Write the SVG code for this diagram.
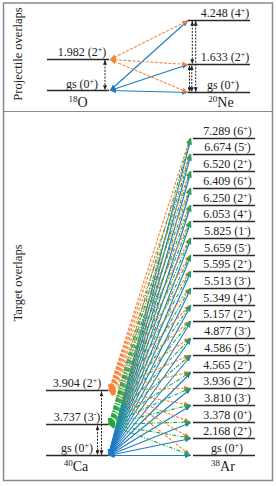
<svg xmlns="http://www.w3.org/2000/svg" width="276" height="486" viewBox="0 0 276 486">
<style>
text{font-family:"Liberation Serif","Times New Roman",serif;fill:#222}
.lbl{font-size:12px;text-anchor:middle}
.nuc{font-size:14px;text-anchor:middle}
.ttl{font-size:12.5px;text-anchor:middle}
.lev{stroke:#2a2a2a;stroke-width:1.3}
.b{stroke:#1f7bc4;stroke-width:1.1;fill:none;marker-start:url(#mb);marker-end:url(#mb)}
.o{stroke:#f5843a;stroke-width:1.1;fill:none;stroke-dasharray:3 1.5;marker-start:url(#mo);marker-end:url(#mo)}
.g{stroke:#26a844;stroke-width:1.1;fill:none;stroke-dasharray:4 1.5 1 1.5;marker-start:url(#mg);marker-end:url(#mg)}
.k{stroke:#222;stroke-width:1;fill:none;stroke-dasharray:2 1.3;marker-start:url(#mk);marker-end:url(#mk)}
</style>
<defs>
<marker id="mb" viewBox="0 0 6 5" refX="6" refY="2.5" markerWidth="6" markerHeight="5" markerUnits="userSpaceOnUse" orient="auto-start-reverse"><path d="M0,0 L6,2.5 L0,5 z" fill="#1f7bc4"/></marker>
<marker id="mo" viewBox="0 0 6 5" refX="6" refY="2.5" markerWidth="6" markerHeight="5" markerUnits="userSpaceOnUse" orient="auto-start-reverse"><path d="M0,0 L6,2.5 L0,5 z" fill="#f5843a"/></marker>
<marker id="mg" viewBox="0 0 6 5" refX="6" refY="2.5" markerWidth="6" markerHeight="5" markerUnits="userSpaceOnUse" orient="auto-start-reverse"><path d="M0,0 L6,2.5 L0,5 z" fill="#26a844"/></marker>
<marker id="mk" viewBox="0 0 6 5" refX="6" refY="2.5" markerWidth="5" markerHeight="4" markerUnits="userSpaceOnUse" orient="auto-start-reverse"><path d="M0,0 L6,2.5 L0,5 z" fill="#222"/></marker>
</defs>
<rect x="0" y="0" width="276" height="486" fill="#fff"/>
<g id="frame">
<rect x="3.5" y="3" width="269" height="477.5" fill="none" stroke="#8a8a8a" stroke-width="1.5"/>
<line x1="3.5" y1="111.5" x2="272.5" y2="111.5" stroke="#8a8a8a" stroke-width="1.2"/>
</g>
<g id="titles">
<text class="ttl" transform="translate(22,54) rotate(-90)">Projectile overlaps</text>
<text class="ttl" transform="translate(22,283) rotate(-90)">Target overlaps</text>
</g>

<g id="connectors">
<g id="proj-conn">
<line class="b" x1="110" y1="90.5" x2="188" y2="20.5"/>
<line class="b" x1="110" y1="90.5" x2="188" y2="64.5"/>
<line class="b" x1="110" y1="90.5" x2="188" y2="92.5"/>
<line class="o" x1="110" y1="59.5" x2="188" y2="20.5"/>
<line class="o" x1="110" y1="59.5" x2="188" y2="64.5"/>
<line class="o" x1="110" y1="59.5" x2="188" y2="92.5"/>
<line class="k" x1="105" y1="60" x2="105" y2="90"/>
<line class="k" x1="192.3" y1="21" x2="192.3" y2="64"/>
<line class="k" x1="195.7" y1="21" x2="195.7" y2="92"/>
<line class="k" x1="189.5" y1="65.5" x2="189.5" y2="92"/>
<line class="k" x1="191.8" y1="65.5" x2="191.8" y2="92"/>
</g>
<g id="targ-blue">
<line class="b" x1="108.5" y1="455.5" x2="191" y2="455.5"/>
<line class="b" x1="108.5" y1="455.5" x2="191" y2="438.5"/>
<line class="b" x1="108.5" y1="455.5" x2="191" y2="422.5"/>
<line class="b" x1="108.5" y1="455.5" x2="191" y2="405.5"/>
<line class="b" x1="108.5" y1="455.5" x2="191" y2="388.5"/>
<line class="b" x1="108.5" y1="455.5" x2="191" y2="372.5"/>
<line class="b" x1="108.5" y1="455.5" x2="191" y2="355.5"/>
<line class="b" x1="108.5" y1="455.5" x2="191" y2="338.5"/>
<line class="b" x1="108.5" y1="455.5" x2="191" y2="321.5"/>
<line class="b" x1="108.5" y1="455.5" x2="191" y2="305.5"/>
<line class="b" x1="108.5" y1="455.5" x2="191" y2="288.5"/>
<line class="b" x1="108.5" y1="455.5" x2="191" y2="271.5"/>
<line class="b" x1="108.5" y1="455.5" x2="191" y2="255.5"/>
<line class="b" x1="108.5" y1="455.5" x2="191" y2="238.5"/>
<line class="b" x1="108.5" y1="455.5" x2="191" y2="221.5"/>
<line class="b" x1="108.5" y1="455.5" x2="191" y2="205.5"/>
<line class="b" x1="108.5" y1="455.5" x2="191" y2="188.5"/>
<line class="b" x1="108.5" y1="455.5" x2="191" y2="171.5"/>
<line class="b" x1="108.5" y1="455.5" x2="191" y2="154.5"/>
<line class="b" x1="108.5" y1="455.5" x2="191" y2="138.5"/>
</g>
<g id="targ-orange">
<line class="o" x1="109" y1="390.5" x2="190" y2="455"/>
<line class="o" x1="109" y1="390.5" x2="190" y2="438"/>
<line class="o" x1="109" y1="390.5" x2="190" y2="422"/>
<line class="o" x1="109" y1="390.5" x2="190" y2="405"/>
<line class="o" x1="109" y1="390.5" x2="190" y2="388"/>
<line class="o" x1="109" y1="390.5" x2="190" y2="372"/>
<line class="o" x1="109" y1="390.5" x2="190" y2="355"/>
<line class="o" x1="109" y1="390.5" x2="190" y2="338"/>
<line class="o" x1="109" y1="390.5" x2="190" y2="321"/>
<line class="o" x1="109" y1="390.5" x2="190" y2="305"/>
<line class="o" x1="109" y1="390.5" x2="190" y2="288"/>
<line class="o" x1="109" y1="390.5" x2="190" y2="271"/>
<line class="o" x1="109" y1="390.5" x2="190" y2="255"/>
<line class="o" x1="109" y1="390.5" x2="190" y2="238"/>
<line class="o" x1="109" y1="390.5" x2="190" y2="221"/>
<line class="o" x1="109" y1="390.5" x2="190" y2="205"/>
<line class="o" x1="109" y1="390.5" x2="190" y2="188"/>
<line class="o" x1="109" y1="390.5" x2="190" y2="171"/>
<line class="o" x1="109" y1="390.5" x2="190" y2="154"/>
<line class="o" x1="109" y1="390.5" x2="190" y2="138"/>
</g>
<g id="targ-green">
<line class="g" x1="109" y1="424.5" x2="190.5" y2="455"/>
<line class="g" x1="109" y1="424.5" x2="190.5" y2="438"/>
<line class="g" x1="109" y1="424.5" x2="190.5" y2="422"/>
<line class="g" x1="109" y1="424.5" x2="190.5" y2="405"/>
<line class="g" x1="109" y1="424.5" x2="190.5" y2="388"/>
<line class="g" x1="109" y1="424.5" x2="190.5" y2="372"/>
<line class="g" x1="109" y1="424.5" x2="190.5" y2="355"/>
<line class="g" x1="109" y1="424.5" x2="190.5" y2="338"/>
<line class="g" x1="109" y1="424.5" x2="190.5" y2="321"/>
<line class="g" x1="109" y1="424.5" x2="190.5" y2="305"/>
<line class="g" x1="109" y1="424.5" x2="190.5" y2="288"/>
<line class="g" x1="109" y1="424.5" x2="190.5" y2="271"/>
<line class="g" x1="109" y1="424.5" x2="190.5" y2="255"/>
<line class="g" x1="109" y1="424.5" x2="190.5" y2="238"/>
<line class="g" x1="109" y1="424.5" x2="190.5" y2="221"/>
<line class="g" x1="109" y1="424.5" x2="190.5" y2="205"/>
<line class="g" x1="109" y1="424.5" x2="190.5" y2="188"/>
<line class="g" x1="109" y1="424.5" x2="190.5" y2="171"/>
<line class="g" x1="109" y1="424.5" x2="190.5" y2="154"/>
<line class="g" x1="109" y1="424.5" x2="190.5" y2="138"/>
</g>
<g id="targ-vert">
<line class="k" x1="101.5" y1="391.5" x2="101.5" y2="455"/>
<line class="k" x1="97.5" y1="425.5" x2="97.5" y2="455"/>
</g>
</g>

<g id="O18">
<g id="O-1982"><line class="lev" x1="47" y1="59.5" x2="109" y2="59.5"/><text class="lbl" x="82" y="56">1.982 (2<tspan font-size="8" dy="-4">+</tspan><tspan dy="4">)</tspan></text></g>
<g id="O-gs"><line class="lev" x1="47" y1="90.5" x2="109" y2="90.5"/><text class="lbl" x="82" y="87.5">gs (0<tspan font-size="8" dy="-4">+</tspan><tspan dy="4">)</tspan></text></g>
<text class="nuc" x="78" y="107"><tspan font-size="9" dy="-5">18</tspan><tspan dy="5">O</tspan></text>
</g>
<g id="Ne20">
<g id="Ne-4248"><line class="lev" x1="188" y1="20.5" x2="250" y2="20.5"/><text class="lbl" x="225" y="17">4.248 (4<tspan font-size="8" dy="-4">+</tspan><tspan dy="4">)</tspan></text></g>
<g id="Ne-1633"><line class="lev" x1="188" y1="64.5" x2="250" y2="64.5"/><text class="lbl" x="225" y="61">1.633 (2<tspan font-size="8" dy="-4">+</tspan><tspan dy="4">)</tspan></text></g>
<g id="Ne-gs"><line class="lev" x1="188" y1="92.5" x2="250" y2="92.5"/><text class="lbl" x="223" y="89">gs (0<tspan font-size="8" dy="-4">+</tspan><tspan dy="4">)</tspan></text></g>
<text class="nuc" x="221" y="107"><tspan font-size="9" dy="-5">20</tspan><tspan dy="5">Ne</tspan></text>
</g>

<g id="Ca40">
<g id="Ca-3904"><line class="lev" x1="46" y1="390.5" x2="108" y2="390.5"/><text class="lbl" x="77" y="387">3.904 (2<tspan font-size="8" dy="-4">+</tspan><tspan dy="4">)</tspan></text></g>
<g id="Ca-3737"><line class="lev" x1="46" y1="424.5" x2="108" y2="424.5"/><text class="lbl" x="77" y="421">3.737 (3<tspan font-size="8" dy="-4">-</tspan><tspan dy="4">)</tspan></text></g>
<g id="Ca-gs"><line class="lev" x1="46" y1="455.5" x2="108" y2="455.5"/><text class="lbl" x="77" y="452">gs (0<tspan font-size="8" dy="-4">+</tspan><tspan dy="4">)</tspan></text></g>
<text class="nuc" x="76" y="471"><tspan font-size="9" dy="-5">40</tspan><tspan dy="5">Ca</tspan></text>
</g>

<g id="Ar38">
<g id="Ar-gs"><line class="lev" x1="193" y1="455.5" x2="255" y2="455.5"/><text class="lbl" x="227" y="452">gs (0<tspan font-size="8" dy="-4">+</tspan><tspan dy="4">)</tspan></text></g>
<g id="Ar-2168"><line class="lev" x1="193" y1="438.5" x2="255" y2="438.5"/><text class="lbl" x="227.5" y="435">2.168 (2<tspan font-size="8" dy="-4">+</tspan><tspan dy="4">)</tspan></text></g>
<g id="Ar-3378"><line class="lev" x1="193" y1="422.5" x2="255" y2="422.5"/><text class="lbl" x="227.5" y="419">3.378 (0<tspan font-size="8" dy="-4">+</tspan><tspan dy="4">)</tspan></text></g>
<g id="Ar-3810"><line class="lev" x1="193" y1="405.5" x2="255" y2="405.5"/><text class="lbl" x="227.5" y="402">3.810 (3<tspan font-size="8" dy="-4">-</tspan><tspan dy="4">)</tspan></text></g>
<g id="Ar-3936"><line class="lev" x1="193" y1="388.5" x2="255" y2="388.5"/><text class="lbl" x="227.5" y="385">3.936 (2<tspan font-size="8" dy="-4">+</tspan><tspan dy="4">)</tspan></text></g>
<g id="Ar-4565"><line class="lev" x1="193" y1="372.5" x2="255" y2="372.5"/><text class="lbl" x="227.5" y="369">4.565 (2<tspan font-size="8" dy="-4">+</tspan><tspan dy="4">)</tspan></text></g>
<g id="Ar-4586"><line class="lev" x1="193" y1="355.5" x2="255" y2="355.5"/><text class="lbl" x="227.5" y="352">4.586 (5<tspan font-size="8" dy="-4">-</tspan><tspan dy="4">)</tspan></text></g>
<g id="Ar-4877"><line class="lev" x1="193" y1="338.5" x2="255" y2="338.5"/><text class="lbl" x="227.5" y="335">4.877 (3<tspan font-size="8" dy="-4">-</tspan><tspan dy="4">)</tspan></text></g>
<g id="Ar-5157"><line class="lev" x1="193" y1="321.5" x2="255" y2="321.5"/><text class="lbl" x="227.5" y="318">5.157 (2<tspan font-size="8" dy="-4">+</tspan><tspan dy="4">)</tspan></text></g>
<g id="Ar-5349"><line class="lev" x1="193" y1="305.5" x2="255" y2="305.5"/><text class="lbl" x="227.5" y="302">5.349 (4<tspan font-size="8" dy="-4">+</tspan><tspan dy="4">)</tspan></text></g>
<g id="Ar-5513"><line class="lev" x1="193" y1="288.5" x2="255" y2="288.5"/><text class="lbl" x="227.5" y="285">5.513 (3<tspan font-size="8" dy="-4">-</tspan><tspan dy="4">)</tspan></text></g>
<g id="Ar-5595"><line class="lev" x1="193" y1="271.5" x2="255" y2="271.5"/><text class="lbl" x="227.5" y="268">5.595 (2<tspan font-size="8" dy="-4">+</tspan><tspan dy="4">)</tspan></text></g>
<g id="Ar-5659"><line class="lev" x1="193" y1="255.5" x2="255" y2="255.5"/><text class="lbl" x="227.5" y="252">5.659 (5<tspan font-size="8" dy="-4">-</tspan><tspan dy="4">)</tspan></text></g>
<g id="Ar-5825"><line class="lev" x1="193" y1="238.5" x2="255" y2="238.5"/><text class="lbl" x="227.5" y="235">5.825 (1<tspan font-size="8" dy="-4">-</tspan><tspan dy="4">)</tspan></text></g>
<g id="Ar-6053"><line class="lev" x1="193" y1="221.5" x2="255" y2="221.5"/><text class="lbl" x="227.5" y="218">6.053 (4<tspan font-size="8" dy="-4">+</tspan><tspan dy="4">)</tspan></text></g>
<g id="Ar-6250"><line class="lev" x1="193" y1="205.5" x2="255" y2="205.5"/><text class="lbl" x="227.5" y="202">6.250 (2<tspan font-size="8" dy="-4">+</tspan><tspan dy="4">)</tspan></text></g>
<g id="Ar-6409"><line class="lev" x1="193" y1="188.5" x2="255" y2="188.5"/><text class="lbl" x="227.5" y="185">6.409 (6<tspan font-size="8" dy="-4">+</tspan><tspan dy="4">)</tspan></text></g>
<g id="Ar-6520"><line class="lev" x1="193" y1="171.5" x2="255" y2="171.5"/><text class="lbl" x="227.5" y="168">6.520 (2<tspan font-size="8" dy="-4">+</tspan><tspan dy="4">)</tspan></text></g>
<g id="Ar-6674"><line class="lev" x1="193" y1="154.5" x2="255" y2="154.5"/><text class="lbl" x="227.5" y="151">6.674 (5<tspan font-size="8" dy="-4">-</tspan><tspan dy="4">)</tspan></text></g>
<g id="Ar-7289"><line class="lev" x1="193" y1="138.5" x2="255" y2="138.5"/><text class="lbl" x="227.5" y="135">7.289 (6<tspan font-size="8" dy="-4">+</tspan><tspan dy="4">)</tspan></text></g>
<text class="nuc" x="223" y="471"><tspan font-size="9" dy="-5">38</tspan><tspan dy="5">Ar</tspan></text>
</g>
</svg>
